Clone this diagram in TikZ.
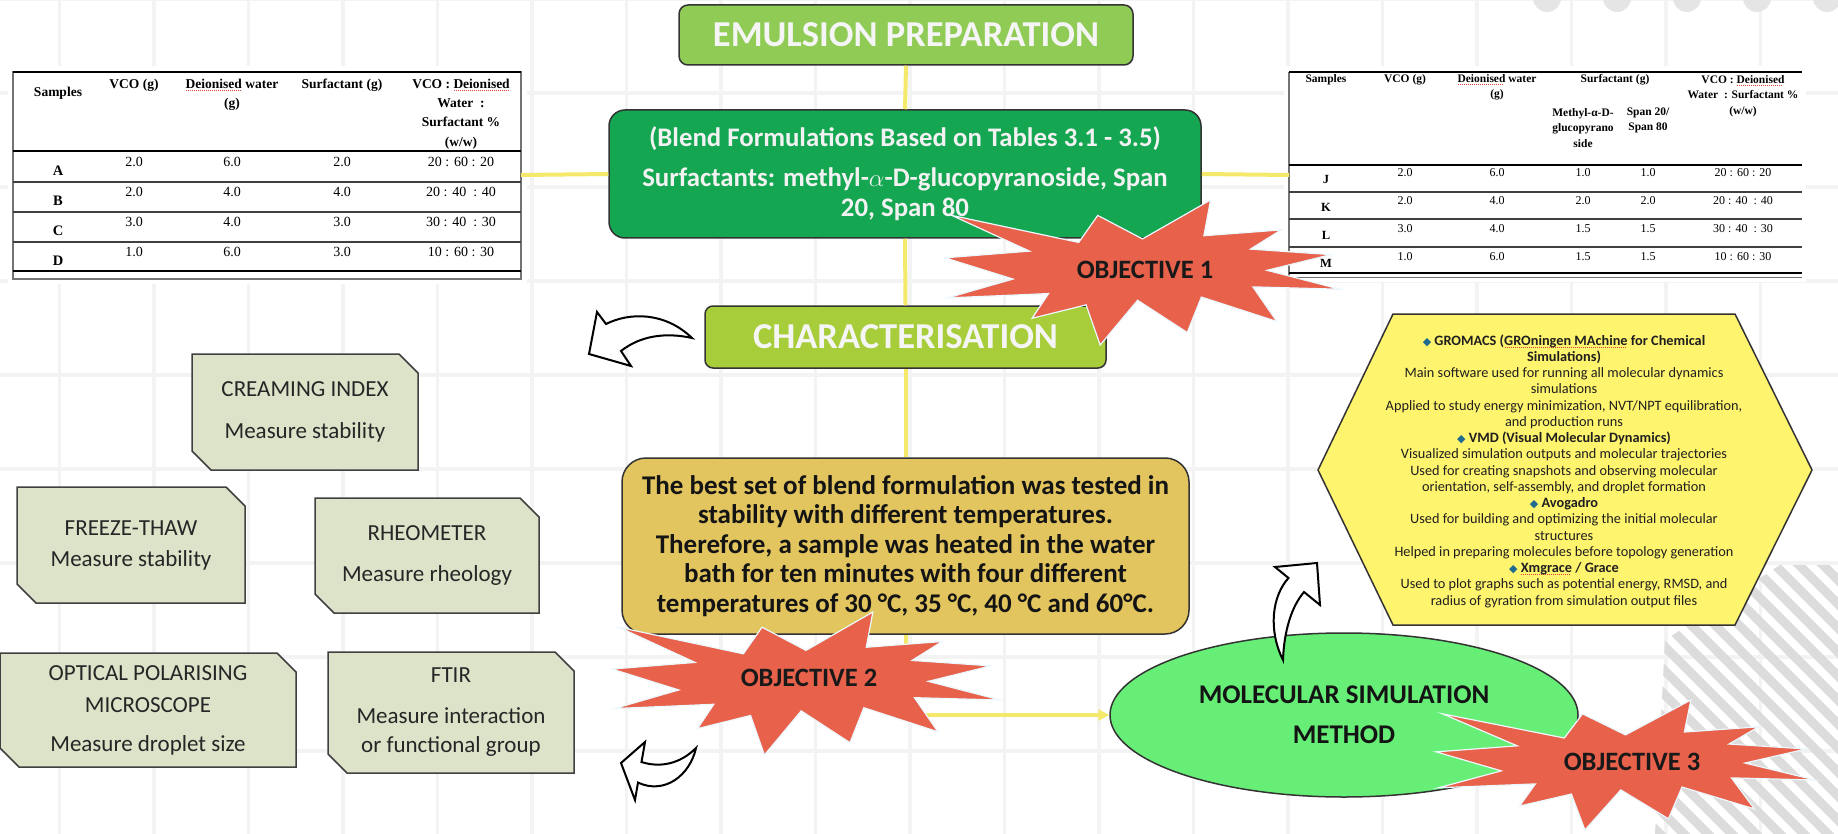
\documentclass[tikz,border=0pt]{standalone}
\usepackage{fontspec}
\setmainfont{Carlito}
\newfontfamily\tnr{Liberation Serif}
\newfontfamily\djv{DejaVu Sans}
\usetikzlibrary{shapes.geometric,arrows.meta}

\definecolor{gridc}{HTML}{F3F3F3}
\definecolor{stripec}{HTML}{DCDCDC}
\definecolor{ylinec}{HTML}{F4E96A}
\definecolor{emulg}{HTML}{8FCB55}
\definecolor{blendg}{HTML}{14A650}
\definecolor{charg}{HTML}{A7CD3A}
\definecolor{goldc}{HTML}{E2C55E}
\definecolor{ellg}{HTML}{66EE77}
\definecolor{hexy}{HTML}{FFF46E}
\definecolor{burstc}{HTML}{E8614B}
\definecolor{sage}{HTML}{DCE3C9}
\definecolor{diac}{HTML}{1E6B8F}
\definecolor{spellc}{HTML}{D8453A}

\newcommand\fs[2]{\fontsize{#1}{#2}\selectfont}
\newcommand\dia{{\djv\color{diac}\fontsize{11}{16.25}\selectfont ◆}}
% dotted red underline of a flagged word
\newsavebox\flagbox
\newcommand\flag[1]{\sbox\flagbox{#1}%
  \rlap{\raisebox{-2.6pt}{\color{spellc}\leaders\hbox to 2pt{\hss\rule{1.1pt}{0.7pt}\hss}\hskip\wd\flagbox}}%
  \usebox\flagbox}

% box with two snipped corners (top right, bottom left)
\newcommand\snipbox[6]{%
  \filldraw[snipfill] (#2,#3) -- (#4-19,#3) -- (#4,#3+19) -- (#4,#5) -- (#2+19,#5) -- (#2,#5-19) -- cycle;
  \node[sniptext] (#1) at ({(#2+#4)/2},{(#3+#5)/2}) {#6};}

% explosion outline, drawn inside a 216 x 216 frame
\newcommand\burstshape[4]{%
  \begin{scope}[shift={(#1,#2)}, xscale=#3/216, yscale=#4/216]
  \filldraw[burstfill] (108,58) -- (145.22,0) -- (141.55,53.25) -- (183.8,44.57) -- (167.02,73.15)
    -- (210.97,81.37) -- (176.07,104.75) -- (216,132.9) -- (168.37,129.42) -- (181.45,180.95)
    -- (140.2,144.57) -- (132.47,197.37) -- (105.32,149.35) -- (84.85,216) -- (77.15,156.27)
    -- (47.62,176.17) -- (56.67,139.37) -- (1.35,145.87) -- (37.22,117.75) -- (0,86.15)
    -- (46.27,76.17) -- (3.7,22.95) -- (73.12,63.2) -- (83.52,22.95) -- cycle;
  \end{scope}}

\begin{document}
\begin{tikzpicture}[x=1pt,y=-1pt,
  yline/.style={draw=ylinec, line width=4pt},
  snipfill/.style={fill=sage, draw=black!75, line width=1.5pt},
  sniptext/.style={font=\fs{23}{24}, align=center, text=black!85, inner sep=0pt},
  burstfill/.style={fill=burstc, draw=cyan!8!white, line width=1.2pt, line join=miter},
  objtext/.style={font=\bfseries\fs{26.5}{28}, text=black!90, inner sep=0pt},
  blockarrow/.style={fill=white, draw=black, line width=2pt, line join=miter},
  tabhead/.style={font=\tnr\bfseries\fs{13.5}{19.5}, align=center, inner sep=0pt},
  tabrow/.style={font=\tnr\bfseries\fs{14.5}{16}, inner sep=0pt},
  tabval/.style={font=\tnr\fs{14}{16}, inner sep=0pt},
  rhead/.style={font=\tnr\bfseries\fs{11.5}{15.5}, align=center, inner sep=0pt},
  rrow/.style={font=\tnr\bfseries\fs{12.5}{14}, inner sep=0pt},
  rval/.style={font=\tnr\fs{12}{14}, inner sep=0pt},
  mainbox/.style={draw=black!80, line width=1.5pt, rounded corners=9pt, inner sep=0pt, align=center},
  hextext/.style={font=\fs{14.3}{16.25}, align=center, text=black!88, inner sep=0pt}]

\useasboundingbox (0,0) rectangle (1838,834);
\fill[white] (0,0) rectangle (1838,834);

% background grid
\foreach \k in {-9,...,9}
  \draw[gridc, line width=3.5pt] ({910+94.5*\k},0) -- ({910+94.5*\k},834);
\foreach \k in {-4,...,4}
  \draw[gridc, line width=3.5pt] (0,{375+94*\k}) -- (1838,{375+94*\k});

% grey discs along the top edge
\foreach \cx in {1547,1617,1687,1757,1827}
  \fill[black!10] (\cx,-2) circle[radius=14pt];

% hatched corner
\begin{scope}
  \clip (1665,640) -- (1780,565) -- (1838,565) -- (1838,834) -- (1655,834) -- cycle;
  \foreach \a in {1250,1274,...,1850}
    \draw[stripec, line width=9pt] (\a,520) -- (\a+340,860);
\end{scope}

% ---------- left table ----------
\fill[white] (8,66) rectangle (527,284);
\draw[black!55, line width=1.2pt] (13,72) rectangle (521,279);
\draw[line width=2pt] (13,72) -- (521,72);
\draw[line width=2.5pt] (13,151) -- (521,151);
\foreach \yy in {182,212,242}
  \draw[black!75, line width=1.5pt] (13,\yy) -- (521,\yy);
\draw[line width=2pt] (13,271) -- (521,271);

\node[tabhead] (lhs) at (58,93) {Samples};
\node[tabhead] (lhv) at (134,85) {VCO (g)};
\node[tabhead] (lhw) at (232,95) {\flag{Deionised} water\\(g)};
\node[tabhead] (lhf) at (342,85) {Surfactant (g)};
\node[tabhead, font=\tnr\bfseries\fs{13.5}{19.3}] (lhr) at (461,114) {VCO : \flag{Deionised}\\Water\ \ :\\Surfactant \%\\(w/w)};
\foreach \s/\a/\b/\c/\d [count=\i from 0] in
  {A/2.0/6.0/2.0/20 : 60 : 20, B/2.0/4.0/4.0/20 : 40\ \ : 40,
   C/3.0/4.0/3.0/30 : 40\ \ : 30, D/1.0/6.0/3.0/10 : 60 : 30} {
  \node[tabrow] (lr\s) at (58,{171+30*\i}) {\s};
  \node[tabval] (lv\s) at (134,{162+30*\i}) {\a};
  \node[tabval] (lw\s) at (232,{162+30*\i}) {\b};
  \node[tabval] (lf\s) at (342,{162+30*\i}) {\c};
  \node[tabval] (lp\s) at (461,{162+30*\i}) {\d};
}
\coordinate (tabL) at (521,175);

% ---------- right table ----------
\fill[white] (1284,66) rectangle (1806,282);
\draw[black!55, line width=1.2pt] (1289,72) -- (1289,277);
\draw[line width=2pt] (1289,72) -- (1802,72);
\draw[line width=2.5pt] (1289,165) -- (1802,165);
\foreach \yy in {192,219,247}
  \draw[black!75, line width=1.5pt] (1289,\yy) -- (1802,\yy);
\draw[line width=2.5pt] (1289,273) -- (1802,273);
\draw[black!55, line width=1.2pt] (1289,277.5) -- (1802,277.5);

\node[rhead] (rhs) at (1326,80) {Samples};
\node[rhead] (rhv) at (1405,80) {VCO (g)};
\node[rhead] (rhw) at (1497,87.5) {\flag{Deionised} water\\(g)};
\node[rhead] (rhf) at (1615,80) {Surfactant (g)};
\node[rhead] (rhm) at (1583,128) {Methyl-α-D-\\glucopyrano\\side};
\node[rhead] (rhp) at (1648,120.5) {Span 20/\\Span 80};
\node[rhead] (rhr) at (1743,96) {VCO : \flag{Deionised}\\Water\ \ : Surfactant \%\\(w/w)};
\foreach \s/\a/\b/\c/\e/\d [count=\i from 0] in
  {J/2.0/6.0/1.0/1.0/20 : 60 : 20, K/2.0/4.0/2.0/2.0/20 : 40\ \ : 40,
   L/3.0/4.0/1.5/1.5/30 : 40\ \ : 30, M/1.0/6.0/1.5/1.5/10 : 60 : 30} {
  \node[rrow] (rr\s) at (1326,{179+28*\i}) {\s};
  \node[rval] (rv\s) at (1405,{173+28*\i}) {\a};
  \node[rval] (rw\s) at (1497,{173+28*\i}) {\b};
  \node[rval] (rm\s) at (1583,{173+28*\i}) {\c};
  \node[rval] (rs\s) at (1648,{173+28*\i}) {\e};
  \node[rval] (rp\s) at (1743,{173+28*\i}) {\d};
}
\coordinate (tabR) at (1289,175);

% ---------- main flow ----------
\node[mainbox, fill=emulg, minimum width=454pt, minimum height=60pt,
      font=\bfseries\fs{36.5}{40}, text=white!96!black] (emul) at (906,35) {EMULSION PREPARATION};
\node[mainbox, fill=blendg, rounded corners=16pt, minimum width=592pt, minimum height=128pt,
      font=\bfseries\fs{26.8}{30}, text=white!95!black] (blend) at (905,174)
      {(Blend Formulations Based on Tables 3.1 - 3.5)\\[10pt]
       Surfactants: methyl-$\alpha$-D-glucopyranoside, Span\\20, Span 80};
\node[mainbox, fill=charg, rounded corners=8pt, minimum width=401pt, minimum height=62pt,
      font=\bfseries\fs{36.5}{40}, text=white!96!black] (charac) at (905.5,337) {CHARACTERISATION};
\node[mainbox, fill=goldc, rounded corners=24pt, minimum width=567pt, minimum height=176pt,
      font=\bfseries\fs{27}{29.5}, text=black!92] (gold) at (905.5,546)
      {The best set of blend formulation was tested in\\
       stability with different temperatures.\\
       Therefore, a sample was heated in the water\\
       bath for ten minutes with four different\\
       temperatures of 30 °C, 35 °C, 40 °C and 60°C.};
\node[ellipse, fill=ellg, draw=black!80, line width=1.5pt, minimum width=468pt, minimum height=164pt,
      inner sep=0pt, align=center, font=\bfseries\fs{27}{40}, text=black!92] (msm) at (1344,715)
      {MOLECULAR SIMULATION\\METHOD};

% connectors
\draw[yline] (emul.south) -- (blend.north);
\draw[yline] (blend.south) -- (charac.north);
\draw[yline] (charac.south) -- (gold.north);
\draw[yline] (tabL) -- (blend.west);
\draw[yline] (blend.east) -- (tabR);
\draw[yline, -{Triangle[length=11pt,width=11pt]}] (gold.south) |- (msm.west);

% characterisation methods
\snipbox{cream}{192}{354}{418}{470}{CREAMING INDEX\\[18pt]Measure stability}
\snipbox{freeze}{17}{487}{245}{603}{FREEZE-THAW\\[7pt]Measure stability}
\snipbox{rheo}{315}{498}{539}{613}{RHEOMETER\\[17pt]Measure rheology}
\snipbox{optic}{0}{653}{296}{767}{OPTICAL POLARISING\\[8pt]MICROSCOPE\\[15pt]Measure droplet size}
\snipbox{ftir}{328}{652}{574}{773}{FTIR\\[17pt]Measure interaction\\[5pt]or functional group}

% simulation software
\filldraw[fill=hexy, draw=black!80, line width=1.5pt]
  (1318,470) -- (1393,314) -- (1735,314) -- (1812,470) -- (1735,625) -- (1393,625) -- cycle;
\node[hextext] (hex) at (1564,471) {%
  \dia\ {\bfseries GROMACS (\flag{GROningen MAchine} for Chemical}\\
  {\bfseries Simulations)}\\
  Main software used for running all molecular dynamics\\
  simulations\\
  Applied to study energy minimization, NVT/NPT equilibration,\\
  and production runs\\
  \dia\ {\bfseries VMD (Visual Molecular Dynamics)}\\
  Visualized simulation outputs and molecular trajectories\\
  Used for creating snapshots and observing molecular\\
  orientation, self-assembly, and droplet formation\\
  \dia\ {\bfseries Avogadro}\\
  Used for building and optimizing the initial molecular\\
  structures\\
  Helped in preparing molecules before topology generation\\
  \dia\ {\bfseries \flag{Xmgrace} / Grace}\\
  Used to plot graphs such as potential energy, RMSD, and\\
  radius of gyration from simulation output files};

% curved block arrows
\filldraw[blockarrow] (692,338) .. controls (665,312) and (630,312) .. (606,324)
  -- (597,312) -- (589,354) -- (631,366) -- (621,351) .. controls (640,336) and (665,332) .. cycle;
\filldraw[blockarrow] (696,748) .. controls (680,764) and (660,768) .. (641.5,762)
  -- (645,742) -- (621,763) -- (635,800) -- (638,782.6) .. controls (665,795) and (690,775) .. cycle;
\filldraw[blockarrow] (1283,660) .. controls (1268,630) and (1272,596) .. (1288.5,578)
  -- (1275,567) -- (1317,563) -- (1320,605) -- (1304,592) .. controls (1292,606) and (1284,630) .. cycle;

% objectives
\burstshape{945}{200}{395}{145}
\node[objtext] (obj1) at (1145,270) {OBJECTIVE 1};
\burstshape{612}{612}{388}{143}
\node[objtext] (obj2) at (809,678) {OBJECTIVE 2};
\burstshape{1436}{700}{379}{130}
\node[objtext] (obj3) at (1632,762) {OBJECTIVE 3};

\end{tikzpicture}
\end{document}
